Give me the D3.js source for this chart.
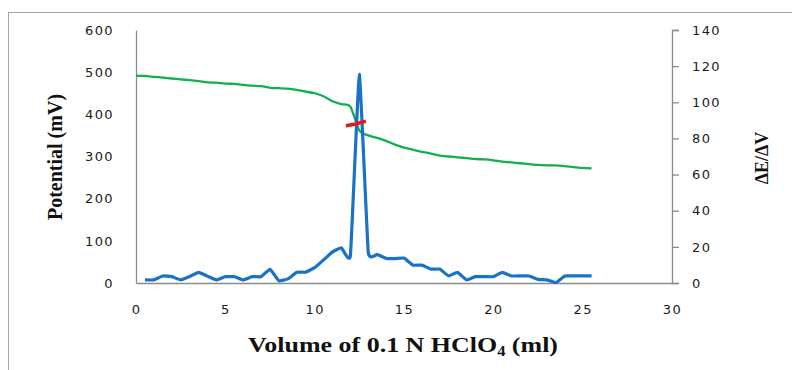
<!DOCTYPE html>
<html>
<head>
<meta charset="utf-8">
<script src="https://cdn.jsdelivr.net/npm/d3@7"></script>
<style>
  body { margin: 0; background: #fff; }
  .tick text { font-family: "DejaVu Sans", Verdana, sans-serif; font-size: 13px; fill: #1a1a1a; letter-spacing: 1.4px; }
  .title { font-family: "Liberation Serif", "Times New Roman", serif; font-weight: bold; fill: #111; }
</style>
</head>
<body>
<div id="chart"></div>
<script>
// potential curve (left axis)
const potVolume = [0, 0.5, 1, 1.5, 2, 2.5, 3, 3.5, 4, 4.5, 5, 5.5, 6, 6.5, 7, 7.5, 8, 8.5, 9, 9.5,
  10, 10.5, 11, 11.5, 12, 12.5, 13, 13.5, 14, 14.5, 15, 15.5, 16, 16.5, 17, 17.5, 18, 18.5, 19, 19.5,
  20, 20.5, 21, 21.5, 22, 22.5, 23, 23.5, 24, 24.5, 25, 25.5];
const potential = [492, 491, 489, 487, 485, 483, 481, 479, 476, 475, 473, 472, 470, 468, 467, 463, 462, 461, 458, 454,
  450, 443, 431, 424, 418, 362, 350, 344, 337, 328, 321, 316, 311, 307, 302, 300, 298, 296, 294, 293,
  291, 288, 286, 284, 282, 280, 279, 279, 277, 275, 273, 272];

// first derivative (right axis)
const derVolume = [0.5, 1, 1.5, 2, 2.5, 3, 3.5, 4, 4.5, 5, 5.5, 6, 6.5, 7, 7.5, 8, 8.5, 9, 9.5,
  10, 10.5, 11, 11.5, 12, 12.5, 13, 13.5, 14, 14.5, 15, 15.5, 16, 16.5, 17, 17.5, 18, 18.5, 19, 19.5,
  20, 20.5, 21, 21.5, 22, 22.5, 23, 23.5, 24, 24.5, 25, 25.5];
const dEdV = [1.7, 1.7, 3.9, 3.5, 1.7, 3.6, 5.9, 3.8, 1.7, 3.5, 3.5, 1.7, 3.5, 3.5, 7.6, 1.2, 2.3, 5.9, 6.0,
  8.5, 12.8, 17.2, 19.5, 15.1, 115.5, 17.0, 15.8, 13.6, 13.5, 13.8, 9.9, 9.9, 7.7, 7.7, 3.9, 5.9, 1.7, 3.5, 3.5,
  3.5, 5.9, 3.9, 3.9, 3.9, 2.0, 1.7, 0.2, 3.9, 3.9, 3.9, 3.9];

// hand-drawn red end-point mark (volume, potential)
const markVolume = [11.75, 12.3, 12.87];
const markPotential = [373, 377, 384];

const xTicks = [0, 5, 10, 15, 20, 25, 30];
const leftTicks = [0, 100, 200, 300, 400, 500, 600];
const rightTicks = [0, 20, 40, 60, 80, 100, 120, 140];

const width = 792, height = 370;
const svg = d3.select("#chart").append("svg")
  .attr("width", width)
  .attr("height", height);

// outer chart frame
svg.append("rect")
  .attr("x", 8.5).attr("y", 12.5)
  .attr("width", 820).attr("height", 400)
  .attr("fill", "none")
  .attr("stroke", "#a6a6a6");

const x = d3.scaleLinear().domain([0, 30]).range([136, 672]);
const yL = d3.scaleLinear().domain([0, 600]).range([283, 30]);
const yR = d3.scaleLinear().domain([0, 140]).range([283, 30]);

// axes
const gx = svg.append("g")
  .attr("transform", `translate(0,${yL(0)})`)
  .call(d3.axisBottom(x).tickValues(xTicks).tickSize(0).tickPadding(22));

const gl = svg.append("g")
  .attr("transform", `translate(${x(0)},0)`)
  .call(d3.axisLeft(yL).tickValues(leftTicks).tickSize(0).tickPadding(22));

const gr = svg.append("g")
  .attr("transform", `translate(${x(30)},0)`)
  .call(d3.axisRight(yR).tickValues(rightTicks).tickSize(7).tickSizeOuter(7).tickPadding(13));

[gx, gl, gr].forEach(g => {
  g.select(".domain").attr("stroke", "#8c8c8c").attr("stroke-width", 1.3);
  g.selectAll(".tick line").attr("stroke", "#8c8c8c").attr("stroke-width", 1.3);
  g.attr("font-family", null).attr("font-size", null);
});

// smoothed lines
const potLine = d3.line()
  .x((d, i) => x(potVolume[i]))
  .y(d => yL(d))
  .curve(d3.curveCardinal.tension(0.3));

const derLine = d3.line()
  .x((d, i) => x(derVolume[i]))
  .y(d => yR(d))
  .curve(d3.curveCardinal.tension(0.7));

svg.append("path")
  .datum(potential)
  .attr("fill", "none")
  .attr("stroke", "#10b050")
  .attr("stroke-width", 2.3)
  .attr("d", potLine);

svg.append("path")
  .datum(dEdV)
  .attr("fill", "none")
  .attr("stroke", "#1a72c4")
  .attr("stroke-width", 3.2)
  .attr("stroke-linejoin", "round")
  .attr("d", derLine);

svg.append("path")
  .datum(markPotential)
  .attr("fill", "none")
  .attr("stroke", "#e8141c")
  .attr("stroke-width", 3.5)
  .attr("d", d3.line().x((d, i) => x(markVolume[i])).y(d => yL(d)));

// titles
const xt = svg.append("text")
  .attr("class", "title")
  .attr("x", 403).attr("y", 352)
  .attr("text-anchor", "middle")
  .attr("font-size", 22)
  .attr("textLength", 310)
  .attr("lengthAdjust", "spacingAndGlyphs");
xt.append("tspan").text("Volume of 0.1 N HClO");
xt.append("tspan").attr("font-size", 14).attr("dy", 4).text("4");
xt.append("tspan").attr("dy", -4).text(" (ml)");

svg.append("text")
  .attr("class", "title")
  .attr("transform", "translate(62,157) rotate(-90)")
  .attr("text-anchor", "middle")
  .attr("font-size", 20)
  .text("Potential (mV)");

svg.append("text")
  .attr("class", "title")
  .attr("transform", "translate(768,158) rotate(-90)")
  .attr("text-anchor", "middle")
  .attr("font-size", 18)
  .text("ΔE/ΔV");
</script>
</body>
</html>
